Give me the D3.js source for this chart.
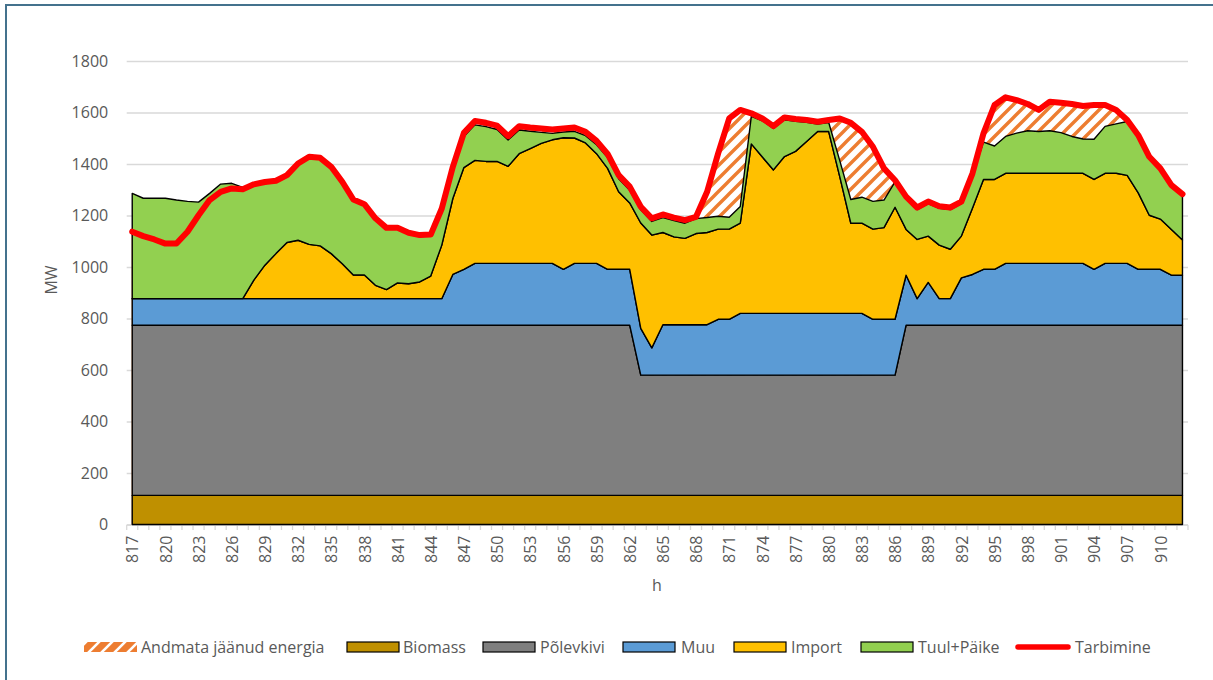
<!DOCTYPE html>
<html><head><meta charset="utf-8">
<script src="https://cdn.jsdelivr.net/npm/d3@7"></script>
<style>body{margin:0;background:#fff}svg{display:block}</style>
</head><body><div id="chart"></div>
<script>
const hours = [817,818,819,820,821,822,823,824,825,826,827,828,829,830,831,832,833,834,835,836,837,838,839,840,841,842,843,844,845,846,847,848,849,850,851,852,853,854,855,856,857,858,859,860,861,862,863,864,865,866,867,868,869,870,871,872,873,874,875,876,877,878,879,880,881,882,883,884,885,886,887,888,889,890,891,892,893,894,895,896,897,898,899,900,901,902,903,904,905,906,907,908,909,910,911,912];
const tickLabels = [817,820,823,826,829,832,835,838,841,844,847,850,853,856,859,862,865,868,871,874,877,880,883,886,889,892,895,898,901,904,907,910];
const yTicks = [0,200,400,600,800,1000,1200,1400,1600,1800];

const biomass = [113,113,113,113,113,113,113,113,113,113,113,113,113,113,113,113,113,113,113,113,113,113,113,113,113,113,113,113,113,113,113,113,113,113,113,113,113,113,113,113,113,113,113,113,113,113,113,113,113,113,113,113,113,113,113,113,113,113,113,113,113,113,113,113,113,113,113,113,113,113,113,113,113,113,113,113,113,113,113,113,113,113,113,113,113,113,113,113,113,113,113,113,113,113,113,113];
const polevkivi = [661,661,661,661,661,661,661,661,661,661,661,661,661,661,661,661,661,661,661,661,661,661,661,661,661,661,661,661,661,661,661,661,661,661,661,661,661,661,661,661,661,661,661,661,661,661,467,467,467,467,467,467,467,467,467,467,467,467,467,467,467,467,467,467,467,467,467,467,467,467,661,661,661,661,661,661,661,661,661,661,661,661,661,661,661,661,661,661,661,661,661,661,661,661,661,661];
const muu = [103,103,103,103,103,103,103,103,103,103,103,103,103,103,103,103,103,103,103,103,103,103,103,103,103,103,103,103,103,197,217,240,240,240,240,240,240,240,240,217,240,240,240,217,217,217,182,106,196,196,196,196,196,217,217,240,240,240,240,240,240,240,240,240,240,240,240,217,217,217,194,103,166,103,103,184,197,217,217,240,240,240,240,240,240,240,240,217,240,240,240,217,217,217,194,194];
const importVals = [0,0,0,0,0,0,0,0,0,0,0,72,130,175,218,227,211,205,175,136,92,92,52,35,61,58,65,88,208,295,395,400,396,396,377,426,446,466,480,511,487,468,426,392,301,258,409,438,358,341,335,354,358,350,350,350,658,607,557,609,629,667,706,706,531,350,350,350,356,435,178,230,180,208,192,162,257,349,349,350,350,350,350,350,350,350,350,349,350,350,342,297,210,195,178,137];
const tuul = [409,390,390,390,383,378,375,409,445,448,432,366,317,277,256,292,334,336,331,312,287,269,254,234,208,192,176,155,136,113,121,138,135,124,102,92,67,43,25,22,26,28,35,42,51,49,51,53,58,63,59,58,58,50,46,65,107,141,161,143,117,75,29,35,62,92,101,108,107,99,119,116,126,143,154,126,127,145,130,143,156,165,162,165,158,143,133,156,182,192,209,216,219,189,164,170];
const tarbimine = [1137,1120,1107,1091,1091,1137,1201,1260,1292,1305,1302,1321,1330,1335,1357,1402,1428,1424,1389,1331,1262,1244,1189,1152,1152,1133,1124,1126,1227,1389,1521,1567,1560,1549,1508,1547,1542,1538,1534,1538,1542,1525,1490,1439,1357,1312,1234,1189,1204,1192,1182,1195,1292,1441,1577,1610,1597,1577,1547,1581,1575,1571,1564,1571,1577,1560,1525,1467,1383,1337,1273,1231,1254,1236,1231,1254,1363,1519,1629,1659,1648,1633,1610,1642,1638,1633,1625,1629,1629,1610,1571,1512,1428,1383,1318,1283];

const seriesKeys = ["Biomass","Põlevkivi","Muu","Import","Tuul+Päike"];
const seriesColors = ["#BF9000","#7F7F7F","#5B9BD5","#FFC000","#92D050"];
const table = hours.map((h,i)=>({h, "Biomass":biomass[i], "Põlevkivi":polevkivi[i], "Muu":muu[i], "Import":importVals[i], "Tuul+Päike":tuul[i], tarb:tarbimine[i]}));

const W=1213, H=680;
const x0=126.7, x1=1188, yTop=61, yBot=524.5;
const FONT = "'Open Sans', sans-serif";
const FS = "16px";
const TXT = "#595959";

const svg = d3.select("#chart").append("svg").attr("width",W).attr("height",H);
svg.append("rect").attr("width",W).attr("height",H).attr("fill","#fff");

const defs = svg.append("defs");
const p = defs.append("pattern").attr("id","hatch").attr("patternUnits","userSpaceOnUse").attr("width",13).attr("height",13);
p.append("rect").attr("width",13).attr("height",13).attr("fill","#fff");
p.append("path").attr("d","M-2,2 L2,-2 M0,13 L13,0 M11,15 L15,11").attr("stroke","#ED7D31").attr("stroke-width",3.4);
const pl = defs.append("pattern").attr("id","hatchL").attr("patternUnits","userSpaceOnUse").attr("width",13).attr("height",13);
pl.append("rect").attr("width",13).attr("height",13).attr("fill","#ED7D31");
pl.append("path").attr("d","M-2,2 L2,-2 M0,13 L13,0 M11,15 L15,11").attr("stroke","#fff").attr("stroke-width",2.6);

// border
svg.append("rect").attr("x",6).attr("y",5).attr("width",W+20).attr("height",H+20)
  .attr("fill","none").attr("stroke","#44728D").attr("stroke-width",2);

const x = d3.scalePoint().domain(hours).range([x0,x1]).padding(0.5);
const xb = d3.scaleBand().domain(hours).range([x0,x1]);
const y = d3.scaleLinear().domain([0,1800]).range([yBot,yTop]);

// gridlines + y labels
const ya = svg.append("g").attr("transform",`translate(${x0},0)`)
  .call(d3.axisLeft(y).tickValues(yTicks).tickFormat(d3.format("d")).tickSize(-(x1-x0)).tickPadding(18.5));
ya.select(".domain").remove();
ya.selectAll(".tick line").attr("stroke","#D9D9D9").attr("stroke-width",1.3);
ya.selectAll(".tick text").attr("fill",TXT).style("font-family",FONT).style("font-size",FS);

// x axis line and ticks
const xa = svg.append("g").attr("transform",`translate(0,${yBot+0.5})`);
xa.append("line").attr("x1",x0).attr("x2",x1).attr("stroke","#D9D9D9").attr("stroke-width",1.3);
xa.selectAll("line.t").data(hours.concat(["end"])).join("line").attr("class","t")
  .attr("x1",d=>d==="end"?x1:xb(d)).attr("x2",d=>d==="end"?x1:xb(d))
  .attr("y1",0).attr("y2",5).attr("stroke","#D9D9D9").attr("stroke-width",1.3);
const xl = svg.append("g").attr("transform",`translate(0,${yBot+11})`)
  .call(d3.axisBottom(x).tickValues(tickLabels).tickSize(0).tickPadding(0));
xl.select(".domain").remove();
xl.selectAll(".tick text").attr("fill",TXT).style("font-family",FONT).style("font-size",FS)
  .attr("text-anchor","end").attr("transform","rotate(-90)").attr("x",0).attr("y",0).attr("dy","0.36em").attr("dx","0");

// Andmata jäänud energia (behind)
const andArea = d3.area().x(d=>x(d.h)).y0(y(0)).y1(d=>y(d.tarb));
svg.append("path").datum(table).attr("d",andArea).attr("fill","url(#hatch)").attr("stroke","#ED7D31").attr("stroke-width",1);

// stacked areas
const stack = d3.stack().keys(seriesKeys);
const layers = stack(table);
const area = d3.area().x(d=>x(d.data.h)).y0(d=>y(d[0])).y1(d=>y(d[1]));
svg.append("g").selectAll("path").data(layers).join("path")
  .attr("d",d=>area(d)+"Z").attr("fill",(d,i)=>seriesColors[i])
  .attr("stroke","#000").attr("stroke-width",1.4).attr("stroke-linejoin","round");

// Tarbimine line
const line = d3.line().x(d=>x(d.h)).y(d=>y(d.tarb));
svg.append("path").datum(table).attr("d",line).attr("fill","none").attr("stroke","#FF0000")
  .attr("stroke-width",6).attr("stroke-linejoin","round").attr("stroke-linecap","round");

// axis titles
svg.append("text").attr("x",657).attr("y",591).attr("text-anchor","middle").attr("fill",TXT)
  .style("font-family",FONT).style("font-size",FS).text("h");
svg.append("text").attr("transform","translate(57,280) rotate(-90)").attr("text-anchor","middle").attr("fill",TXT)
  .style("font-family",FONT).style("font-size",FS).text("MW");

// legend
const legend = [
  {name:"Andmata jäänud energia", type:"hatch", sx:84, tx:141},
  {name:"Biomass", type:"rect", color:"#BF9000", sx:347, tx:403},
  {name:"Põlevkivi", type:"rect", color:"#7F7F7F", sx:483, tx:540},
  {name:"Muu", type:"rect", color:"#5B9BD5", sx:623, tx:681},
  {name:"Import", type:"rect", color:"#FFC000", sx:734, tx:791},
  {name:"Tuul+Päike", type:"rect", color:"#92D050", sx:861, tx:918},
  {name:"Tarbimine", type:"line", color:"#FF0000", sx:1016, tx:1075}
];
const lg = svg.append("g");
const ly = 647;
legend.forEach(it=>{
  if(it.type==="line"){
    lg.append("line").attr("x1",it.sx+2).attr("x2",it.sx+52).attr("y1",ly).attr("y2",ly)
      .attr("stroke",it.color).attr("stroke-width",5.5).attr("stroke-linecap","round");
  } else if(it.type==="hatch"){
    lg.append("rect").attr("x",it.sx).attr("y",ly-5).attr("width",53).attr("height",10).attr("fill","url(#hatchL)");
  } else {
    lg.append("rect").attr("x",it.sx).attr("y",ly-5).attr("width",52).attr("height",10)
      .attr("fill",it.color).attr("stroke","#000").attr("stroke-width",1.2);
  }
  lg.append("text").attr("x",it.tx).attr("y",ly).attr("dy","0.36em").attr("fill",TXT)
    .style("font-family",FONT).style("font-size",FS).text(it.name);
});
</script></body></html>
